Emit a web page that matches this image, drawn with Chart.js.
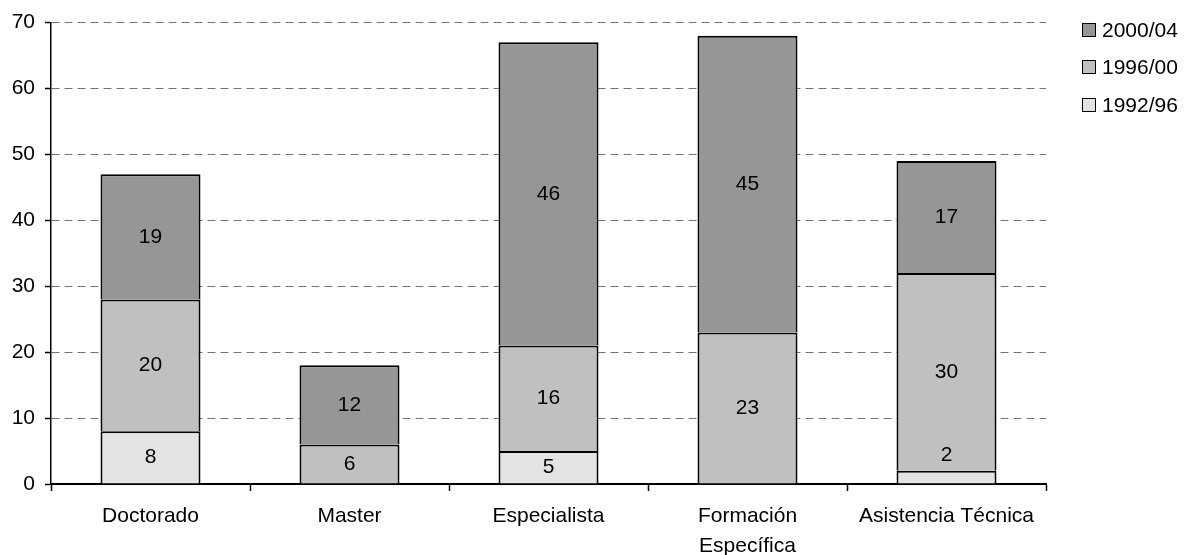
<!DOCTYPE html>
<html>
<head>
<meta charset="utf-8">
<script src="https://cdn.jsdelivr.net/npm/chart.js@4"></script>
<style>
  body { margin: 0; background: #fff; }
  #caja { position: relative; width: 1184px; height: 555px; }
  #leyenda { position: absolute; left: 1082px; top: 11px; font: 21px "Liberation Sans", Arial, sans-serif; color: #000; }
  .item { height: 37.5px; display: flex; align-items: center; }
  .marca { width: 12px; height: 12px; border: 1.5px solid #000; margin-right: 6px; }
</style>
</head>
<body>
<div id="caja">
  <canvas id="grafica"></canvas>
  <div id="leyenda"></div>
</div>
<script>
// categorias y series
const categorias = ['Doctorado', 'Master', 'Especialista', ['Formación', 'Específica'], 'Asistencia Técnica'];
const serie9296 = [8, 0, 5, 0, 2];
const serie9600 = [20, 6, 16, 23, 30];
const serie0004 = [19, 12, 46, 45, 17];
const nombresSeries = ['1992/96', '1996/00', '2000/04'];
const coloresSeries = ['#e3e3e3', '#c0c0c0', '#969696'];

const fuente = '"Liberation Sans", Arial, sans-serif';
Chart.defaults.font.family = fuente;
Chart.defaults.font.size = 21;
Chart.defaults.color = '#000';

// etiquetas con el valor dentro de cada segmento
const etiquetasPlugin = {
  id: 'etiquetas',
  afterDatasetsDraw(chart) {
    const ctx = chart.ctx;
    ctx.save();
    ctx.font = '21px ' + fuente;
    ctx.fillStyle = '#000';
    ctx.textAlign = 'center';
    ctx.textBaseline = 'middle';
    chart.data.datasets.forEach((ds, i) => {
      const meta = chart.getDatasetMeta(i);
      meta.data.forEach((barra, j) => {
        const valor = ds.data[j];
        if (!valor) return;
        const alto = barra.base - barra.y;
        let y = (barra.y + barra.base) / 2;
        if (alto < 24) y = barra.y - 16; // no cabe, va encima
        ctx.fillText(valor, barra.x, y);
      });
    });
    ctx.restore();
  }
};

const series = [serie9296, serie9600, serie0004];
const datasets = series.map((datos, i) => ({
  label: nombresSeries[i],
  data: datos,
  backgroundColor: coloresSeries[i],
  borderColor: '#000',
  borderWidth: 2,
  borderSkipped: 'start',
  barPercentage: 100 / 199,
  categoryPercentage: 1
}));

new Chart(document.getElementById('grafica'), {
  type: 'bar',
  data: { labels: categorias, datasets: datasets },
  options: {
    responsive: true,
    maintainAspectRatio: false,
    animation: false,
    layout: { padding: { top: 21, right: 138, left: 0, bottom: 0 } },
    plugins: {
      legend: { display: false },
      tooltip: { enabled: false }
    },
    scales: {
      x: {
        stacked: true,
        afterFit(escala) { escala.height = 71; },
        grid: {
          offset: true,
          drawOnChartArea: false,
          tickLength: 7,
          tickColor: '#000',
          tickWidth: 1.5
        },
        border: { display: true, color: '#000', width: 2 },
        ticks: {
          padding: 10,
          maxRotation: 0,
          autoSkip: false,
          font: { size: 21, lineHeight: 30 / 21 }
        }
      },
      y: {
        stacked: true,
        min: 0,
        max: 70,
        afterFit(escala) { escala.width = 51; },
        grid: {
          color: '#767676',
          lineWidth: 1,
          tickLength: 6,
          tickColor: '#000',
          tickWidth: 1.5,
          tickBorderDash: []
        },
        border: { display: true, color: '#000', width: 1.5, dash: [8, 5] },
        ticks: { stepSize: 10, padding: 10, font: { size: 21 } }
      }
    }
  },
  plugins: [etiquetasPlugin]
});

// leyenda a la derecha, de arriba hacia abajo
const leyenda = document.getElementById('leyenda');
for (let i = nombresSeries.length - 1; i >= 0; i--) {
  const fila = document.createElement('div');
  fila.className = 'item';
  const marca = document.createElement('span');
  marca.className = 'marca';
  marca.style.background = coloresSeries[i];
  const texto = document.createElement('span');
  texto.textContent = nombresSeries[i];
  fila.appendChild(marca);
  fila.appendChild(texto);
  leyenda.appendChild(fila);
}
</script>
</body>
</html>
